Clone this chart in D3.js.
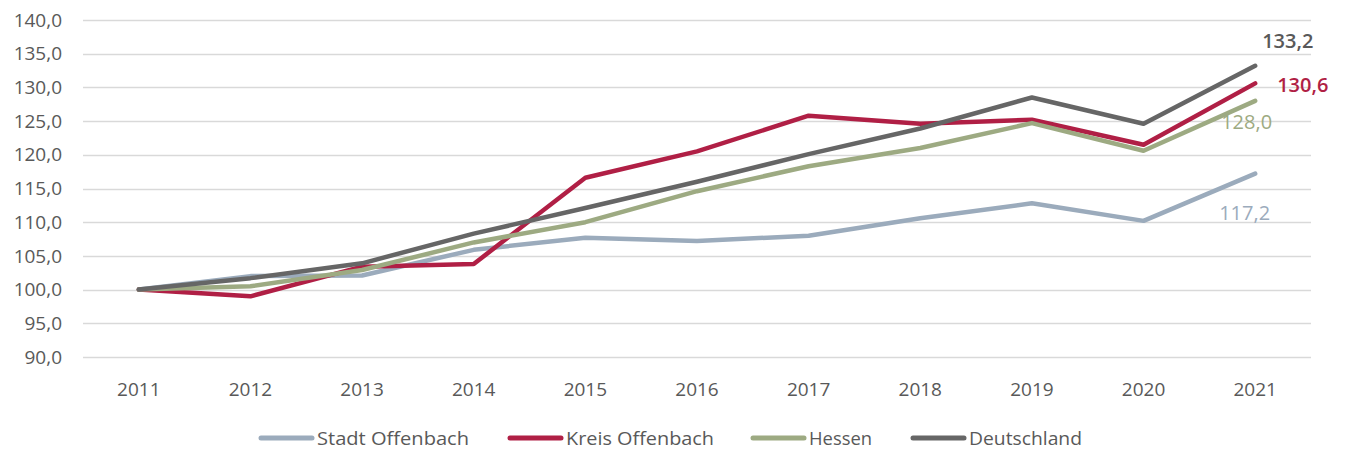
<!DOCTYPE html>
<html>
<head>
<meta charset="utf-8">
<script src="https://cdn.jsdelivr.net/npm/d3@7"></script>
<style>
  body { margin: 0; background: #fff; }
  text { font-family: "Open Sans", "DejaVu Sans", sans-serif; }
</style>
</head>
<body>
<div class="chart"></div>
<script>
/* DATA */
const years = ["2011","2012","2013","2014","2015","2016","2017","2018","2019","2020","2021"];
const stadtOffenbach = [100.0, 102.0, 102.1, 105.9, 107.7, 107.2, 108.0, 110.6, 112.8, 110.2, 117.2];
const kreisOffenbach = [100.0, 99.0, 103.4, 103.8, 116.6, 120.5, 125.8, 124.6, 125.2, 121.5, 130.6];
const hessen = [100.0, 100.5, 102.9, 107.0, 110.0, 114.6, 118.3, 121.0, 124.7, 120.6, 128.0];
const deutschland = [100.0, 101.7, 103.9, 108.3, 112.1, 116.0, 120.1, 123.9, 128.5, 124.6, 133.2];
const yTicks = [90, 95, 100, 105, 110, 115, 120, 125, 130, 135, 140];

const series = [
	{name: "Stadt Offenbach", values: stadtOffenbach, color: "#9babbc", text: "#9babbc", lx: -36, ly: 39, weight: 400},
	{name: "Kreis Offenbach", values: kreisOffenbach, color: "#b01f45", text: "#b01f45", lx: 22, ly: 2, weight: 600},
	{name: "Hessen", values: hessen, color: "#9daa82", text: "#9daa82", lx: -34, ly: 21, weight: 400},
	{name: "Deutschland", values: deutschland, color: "#666666", text: "#595959", lx: 7, ly: -25, weight: 600}
];

/* DIMENSIONS */
const width = 1349, height = 450;
const margin = {top: 20, right: 38, bottom: 93, left: 83};

const svg = d3.select(".chart").append("svg")
	.attr("width", width)
	.attr("height", height);

const x = d3.scaleBand()
	.domain(years)
	.range([margin.left, width - margin.right]);

const y = d3.scaleLinear()
	.domain([90, 140])
	.range([height - margin.bottom, margin.top]);

const xc = d => x(d) + x.bandwidth() / 2;

/* GRID */
svg.append("g")
	.selectAll("line")
	.data(yTicks)
	.join("line")
	.attr("x1", margin.left)
	.attr("x2", width - margin.right)
	.attr("y1", d => Math.round(y(d)) + 0.5)
	.attr("y2", d => Math.round(y(d)) + 0.5)
	.attr("stroke", "#d9d9d9")
	.attr("stroke-width", 1.5);

/* AXES */
const fmt = d => d3.format(".1f")(d).replace(".", ",");

svg.append("g")
	.selectAll("text")
	.data(yTicks)
	.join("text")
	.attr("x", 62)
	.attr("y", d => y(d))
	.attr("dy", "0.35em")
	.attr("text-anchor", "end")
	.attr("fill", "#595959")
	.attr("font-size", 19)
	.text(fmt);

svg.append("g")
	.selectAll("text")
	.data(years)
	.join("text")
	.attr("x", xc)
	.attr("y", 389)
	.attr("dy", "0.35em")
	.attr("text-anchor", "middle")
	.attr("fill", "#595959")
	.attr("font-size", 19)
	.text(d => d);

/* LINES */
const line = d3.line()
	.x((d, i) => xc(years[i]))
	.y(d => y(d));

svg.append("g")
	.selectAll("path")
	.data(series)
	.join("path")
	.attr("d", d => line(d.values))
	.attr("fill", "none")
	.attr("stroke", d => d.color)
	.attr("stroke-width", 4.5)
	.attr("stroke-linejoin", "round")
	.attr("stroke-linecap", "round");

/* END LABELS */
svg.append("g")
	.selectAll("text")
	.data(series)
	.join("text")
	.attr("x", d => xc(years[years.length - 1]) + d.lx)
	.attr("y", d => y(d.values[d.values.length - 1]) + d.ly)
	.attr("dy", "0.35em")
	.attr("fill", d => d.text)
	.attr("font-size", 20)
	.attr("font-weight", d => d.weight)
	.text(d => fmt(d.values[d.values.length - 1]));

/* LEGEND */
const legendX = [259, 508, 751, 911];
const legendW = [152, 148, 63, 113];
const legend = svg.append("g")
	.selectAll("g")
	.data(series)
	.join("g")
	.attr("transform", (d, i) => `translate(${legendX[i]},438)`);

legend.append("line")
	.attr("x1", 2)
	.attr("x2", 53)
	.attr("stroke", d => d.color)
	.attr("stroke-width", 5)
	.attr("stroke-linecap", "round");

legend.append("text")
	.attr("x", 58)
	.attr("dy", "0.35em")
	.attr("fill", "#595959")
	.attr("font-size", 19)
	.attr("textLength", (d, i) => legendW[i])
	.attr("lengthAdjust", "spacingAndGlyphs")
	.text(d => d.name);
</script>
</body>
</html>
